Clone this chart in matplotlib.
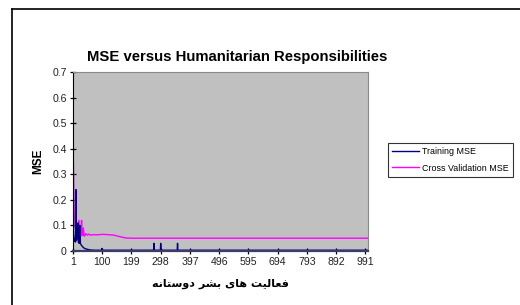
import matplotlib
matplotlib.use("Agg")
import matplotlib.pyplot as plt
from matplotlib.lines import Line2D

plt.rcParams['font.family'] = ['Liberation Sans', 'DejaVu Sans']

# Cross validation MSE (epoch, value)
cv_epoch = [1, 3, 5, 7, 9, 11, 13, 16, 18, 21, 23, 26, 28, 30, 32, 34, 36, 38,
            40, 45, 50, 55, 60, 70, 80, 100, 120, 140, 160, 180, 200, 1000]
cv_mse = [0.44, 0.30, 0.16, 0.12, 0.09, 0.13, 0.08, 0.10, 0.07, 0.12, 0.07, 0.09,
          0.06, 0.12, 0.07, 0.06, 0.09, 0.07, 0.058, 0.068, 0.062, 0.066, 0.062,
          0.064, 0.063, 0.065, 0.064, 0.062, 0.056, 0.051, 0.050, 0.050]

# Training MSE (epoch, value)
train_epoch = [1, 4, 7, 9, 11, 12, 15, 18, 19, 22, 25, 26, 28, 31, 35, 40, 45, 52,
               60, 75, 98, 99, 100, 274, 275, 276, 297, 298, 299, 354, 355, 356, 1000]
train_mse = [0.08, 0.05, 0.04, 0.035, 0.24, 0.04, 0.05, 0.11, 0.035, 0.03, 0.10,
             0.03, 0.025, 0.02, 0.015, 0.01, 0.008, 0.006, 0.004, 0.003, 0.003,
             0.01, 0.003, 0.003, 0.03, 0.003, 0.003, 0.03, 0.003, 0.003, 0.03,
             0.003, 0.003]

x_ticks = [1, 100, 199, 298, 397, 496, 595, 694, 793, 892, 991]
y_ticks = [0, 0.1, 0.2, 0.3, 0.4, 0.5, 0.6, 0.7]
y_labels = ['0', '0.1', '0.2', '0.3', '0.4', '0.5', '0.6', '0.7']

title = 'MSE versus Humanitarian Responsibilities'
# "فعالیت های بشر دوستانه" written with presentation forms in visual order,
# since matplotlib does no Arabic shaping on its own
xlabel_logical = [
    '\uFED3\uFECC\uFE8E\uFEDF\uFEF4\uFE96',          # فعالیت
    '\uFEEB\uFE8E\uFEEF',                            # های
    '\uFE91\uFEB8\uFEAE',                            # بشر
    '\uFEA9\uFEED\uFEB3\uFE98\uFE8E\uFEE7\uFEEA',    # دوستانه
]
xlabel = ' '.join(xlabel_logical)[::-1]

W, H = 520, 305
fig = plt.figure(figsize=(W / 100, H / 100), dpi=100)
ax = fig.add_axes([73 / W, 1 - 251 / H, 295 / W, 179 / H])
ax.set_facecolor('#c0c0c0')

ax.plot(cv_epoch, cv_mse, color='#ff00ff', lw=1.0, label='Cross Validation MSE')
ax.plot(train_epoch, train_mse, color='#000080', lw=1.0, label='Training MSE')

ax.set_xlim(1, 1000)
ax.set_ylim(0, 0.7)
ax.set_xticks(x_ticks)
ax.set_xticklabels([str(t) for t in x_ticks])
ax.set_yticks(y_ticks)
ax.set_yticklabels(y_labels)
ax.tick_params(direction='inout', length=5, width=0.9, color='black',
               labelsize=7.6, labelcolor='#222222', pad=2)

for s in ['top', 'right']:
    ax.spines[s].set_color('#8a8a8a')
    ax.spines[s].set_linewidth(0.8)
ax.spines['left'].set_color('black')
ax.spines['bottom'].set_color('#3c3c6a')
ax.spines['bottom'].set_linewidth(1.6)

ax.set_ylabel('MSE', fontsize=8.5, fontweight='bold', labelpad=6)
fig.text(220 / W, 1 - 284 / H, xlabel, ha='center', va='center',
         fontsize=8, fontweight='bold', family=['DejaVu Sans'])
fig.text(237 / W, 1 - 57 / H, title, ha='center', va='center',
         fontsize=10.7, fontweight='bold')

# legend in the order shown on the picture
handles, labels = ax.get_legend_handles_labels()
leg = fig.legend(handles[::-1], labels[::-1], loc='upper left',
                 bbox_to_anchor=(388 / W, 1 - 143 / H), fontsize=6.4,
                 frameon=True, fancybox=False, handlelength=3.0,
                 handletextpad=0.3, borderpad=0.5, labelspacing=0.8,
                 borderaxespad=0)
leg.get_frame().set_edgecolor('black')
leg.get_frame().set_linewidth(0.8)

# chart area border (left and top edges)
fig.add_artist(Line2D([12 / W, 12 / W], [0, 1 - 9 / H], color='black', lw=1.2))
fig.add_artist(Line2D([12 / W, 1], [1 - 9 / H, 1 - 9 / H], color='black', lw=1.2))

fig.savefig('out.png', dpi=100)
